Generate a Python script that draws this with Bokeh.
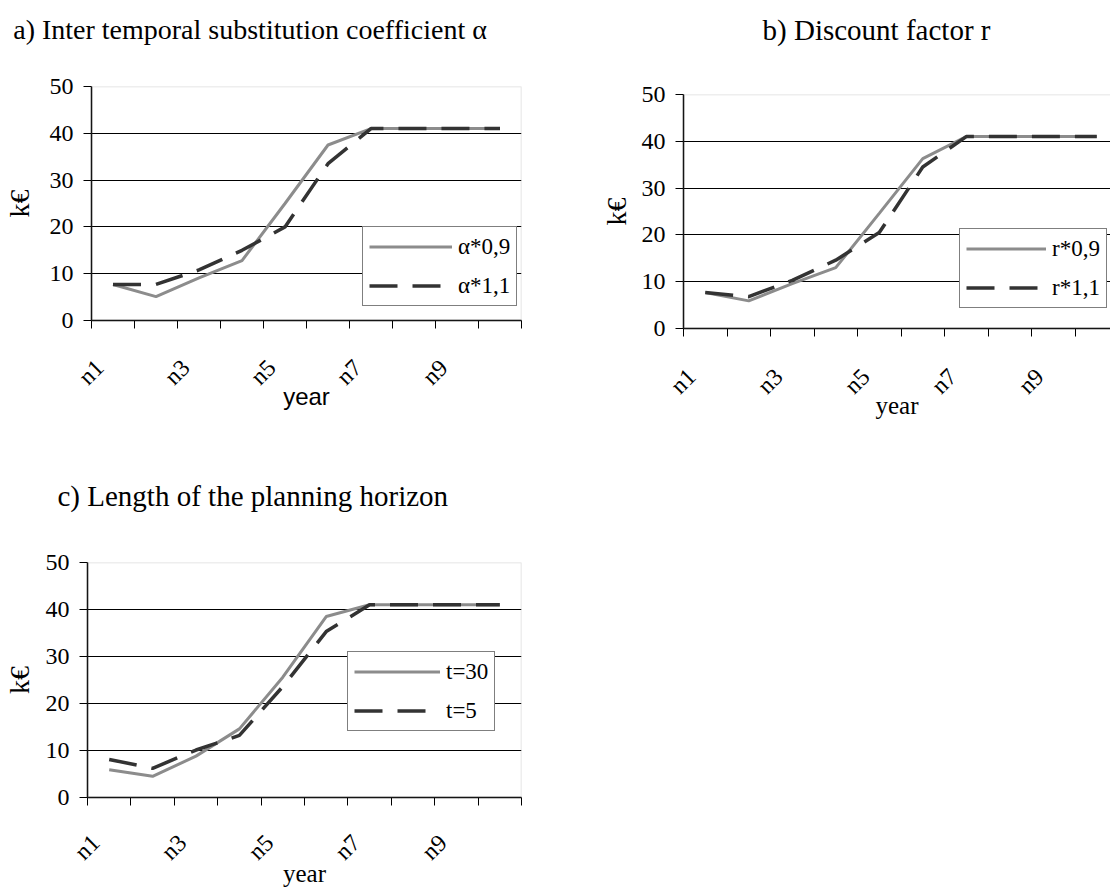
from math import pi
from bokeh.plotting import figure
from bokeh.models import Range1d, FixedTicker, Legend, LegendItem, Label, BoxAnnotation
from bokeh.layouts import column, row
from bokeh.embed import file_html
from bokeh.resources import INLINE

# ---------------- data ----------------
years = ["n1", "n2", "n3", "n4", "n5", "n6", "n7", "n8", "n9", "n10"]
shown_years = ["n1", "n3", "n5", "n7", "n9"]
y_ticks = [0, 10, 20, 30, 40, 50]

alpha_09 = [7.7, 5.1, 9.1, 12.8, 25.0, 37.5, 41.0, 41.0, 41.0, 41.0]
alpha_11 = [7.7, 7.7, 10.8, 15.0, 20.0, 33.5, 41.0, 41.0, 41.0, 41.0]
r_09 = [7.7, 5.9, 9.6, 13.0, 24.6, 36.3, 41.0, 41.0, 41.0, 41.0]
r_11 = [7.7, 6.8, 10.3, 14.6, 20.5, 34.5, 41.0, 41.0, 41.0, 41.0]
t_30 = [5.9, 4.5, 8.8, 14.6, 25.6, 38.5, 41.0, 41.0, 41.0, 41.0]
t_5 = [8.1, 6.2, 10.1, 13.2, 23.6, 35.3, 41.0, 41.0, 41.0, 41.0]

titles = ["a) Inter temporal substitution coefficient \u03b1",
          "b) Discount factor r",
          "c) Length  of the planning horizon"]
legend_labels = [["\u03b1*0,9", "\u03b1*1,1"], ["r*0,9", "r*1,1"], ["t=30", "t=5"]]
y_label = "k\u20ac"
x_label = "year"

# ---------------- style ----------------
SERIF = "Liberation Serif"
SANS = "Liberation Sans"
GRAY = "#8c8c8c"
DARK = "#333333"
BORDER = "#8f8f8f"
Y_MAX = 50
LABEL_SHIFT = 0.1875   # category labels sit a little right of the boundary tick


def title_strip(text, width, height, x, baseline, align, size):
    """A bare figure (pixel ranges, no axes) that only carries a title text."""
    t = figure(width=width, height=height, output_backend="svg",
               toolbar_location=None, x_range=Range1d(0, width),
               y_range=Range1d(height, 0), x_axis_type=None, y_axis_type=None,
               min_border=0, outline_line_color=None,
               background_fill_color="white", border_fill_color="white")
    t.grid.visible = False
    t.add_layout(Label(x=x, y=baseline, text=text, text_font=SERIF,
                       text_font_size=size, text_align=align,
                       text_baseline="alphabetic", text_color="black"))
    return t


def panel(s1, s2, labels, *, width, height, fl, ft, fw, fh, cat_px,
          ylab_standoff, year_font, year_size, year_standoff, tick_standoff,
          leg_loc, glyph_w):
    x_end = fw / cat_px
    p = figure(width=width, height=height, output_backend="svg",
               toolbar_location=None, x_range=Range1d(0, x_end),
               y_range=Range1d(0, Y_MAX), min_border_left=fl,
               min_border_right=width - fl - fw, min_border_top=ft,
               min_border_bottom=height - ft - fh,
               background_fill_color="white", border_fill_color="white",
               outline_line_color=None)

    xs = [i + 0.5 for i in range(len(years))]

    # ---- y axis
    p.yaxis.ticker = FixedTicker(ticks=y_ticks)
    p.yaxis.major_tick_out = 8
    p.yaxis.major_tick_in = 0
    p.yaxis.minor_tick_line_color = None
    p.yaxis.major_label_standoff = 10
    p.yaxis.major_label_text_font = SERIF
    p.yaxis.major_label_text_font_size = "24px"
    p.yaxis.major_label_text_color = "black"
    p.yaxis.axis_line_color = "black"
    p.yaxis.axis_line_width = 1.5
    p.yaxis.major_tick_line_color = "black"
    p.yaxis.axis_label = y_label
    p.yaxis.axis_label_text_font = SERIF
    p.yaxis.axis_label_text_font_size = "28px"
    p.yaxis.axis_label_text_font_style = "normal"
    p.yaxis.axis_label_text_color = "black"
    p.yaxis.axis_label_standoff = ylab_standoff

    # ---- x axis: tick marks between categories (minor ticks),
    #      every other category label (major ticks without marks)
    label_pos = [years.index(y) + LABEL_SHIFT for y in shown_years]
    p.xaxis.ticker = FixedTicker(ticks=label_pos,
                                 minor_ticks=list(range(len(years) + 1)))
    p.xaxis.major_label_overrides = {pos: y for pos, y in zip(label_pos, shown_years)}
    p.xaxis.major_tick_out = 0
    p.xaxis.major_tick_in = 0
    p.xaxis.major_tick_line_color = None
    p.xaxis.minor_tick_out = 8
    p.xaxis.minor_tick_in = 0
    p.xaxis.minor_tick_line_color = "black"
    p.xaxis.minor_tick_line_width = 1
    p.xaxis.major_label_orientation = pi / 4
    p.xaxis.major_label_standoff = tick_standoff
    p.xaxis.major_label_text_font = SERIF
    p.xaxis.major_label_text_font_size = "24px"
    p.xaxis.major_label_text_color = "black"
    p.xaxis.axis_line_color = "black"
    p.xaxis.axis_line_width = 1.5
    p.xaxis.axis_label = x_label
    p.xaxis.axis_label_text_font = year_font
    p.xaxis.axis_label_text_font_size = year_size
    p.xaxis.axis_label_text_font_style = "normal"
    p.xaxis.axis_label_text_color = "black"
    p.xaxis.axis_label_standoff = year_standoff

    # ---- grid / plot-area border (grey top and right edges)
    p.xgrid.visible = False
    p.ygrid.ticker = FixedTicker(ticks=[10, 20, 30, 40])
    p.ygrid.grid_line_color = "black"
    p.ygrid.grid_line_width = 1
    p.add_layout(BoxAnnotation(left=0, right=len(years), bottom=0, top=Y_MAX,
                               fill_color=None, fill_alpha=0,
                               line_color=BORDER, line_width=1.5))

    # ---- series
    r1 = p.line(xs, s1, line_color=GRAY, line_width=3)
    r2 = p.line(xs, s2, line_color=DARK, line_width=3.5, line_dash="28 15")

    legend = Legend(items=[LegendItem(label=labels[0], renderers=[r1]),
                           LegendItem(label=labels[1], renderers=[r2])],
                    location=leg_loc, margin=0, padding=6, spacing=12,
                    glyph_width=glyph_w, glyph_height=27, label_height=27,
                    label_standoff=6, label_text_font=SERIF,
                    label_text_font_size="23px", label_text_color="black",
                    border_line_color="black", border_line_width=1,
                    background_fill_color="white", background_fill_alpha=1)
    p.add_layout(legend)
    return p


ta = title_strip(titles[0], 560, 45, 12.7, 29.3, "left", "28px")
tb = title_strip(titles[1], 550, 53, 316, 29.3, "center", "29px")
tc = title_strip(titles[2], 560, 62, 57, 39, "left", "29px")

pa = panel(alpha_09, alpha_11, legend_labels[0],
           width=560, height=403, fl=88, ft=41, fw=433, fh=234, cat_px=43.3,
           ylab_standoff=12, year_font=SANS, year_size="24px",
           year_standoff=-19, tick_standoff=35,
           leg_loc=(271, 14), glyph_w=83)

pb = panel(r_09, r_11, legend_labels[1],
           width=550, height=403, fl=123, ft=41, fw=427, fh=234, cat_px=43.5,
           ylab_standoff=7, year_font=SERIF, year_size="25px",
           year_standoff=-19, tick_standoff=36,
           leg_loc=(276, 20), glyph_w=80)

pc = panel(t_30, t_5, legend_labels[2],
           width=560, height=371, fl=84, ft=44, fw=437, fh=242, cat_px=43.7,
           ylab_standoff=8, year_font=SERIF, year_size="25px",
           year_standoff=-17, tick_standoff=33,
           leg_loc=(260, 66), glyph_w=86)

# every figure sits in its own row so that Bokeh does not align plot frames
top = row(column(row(ta), row(pa)), column(row(tb), row(pb)))
bottom = column(row(tc), row(pc))
layout = column(top, bottom)
open("out.html", "w").write(file_html(layout, INLINE))
